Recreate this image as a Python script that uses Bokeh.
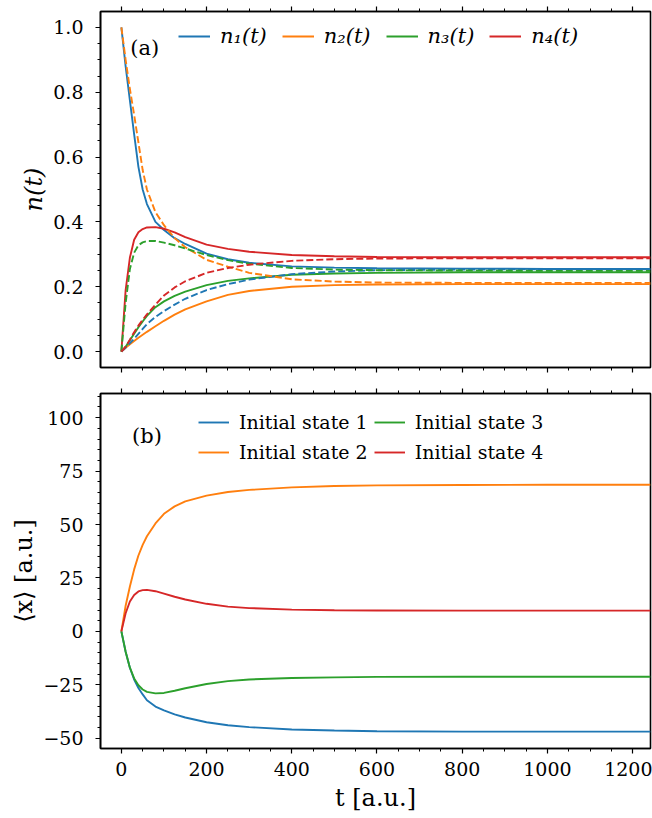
from bokeh.plotting import figure
from bokeh.layouts import column
from bokeh.models import (Range1d, LinearAxis, SingleIntervalTicker, Legend,
                          LegendItem, Label, CustomJSTickFormatter, PrintfTickFormatter)
from bokeh.embed import file_html
from bokeh.resources import INLINE

# ---------------- data ----------------
t = [0, 10, 20, 30, 40, 50, 60, 80, 100, 125, 150, 200, 250, 300, 400,
     500, 600, 800, 1000, 1242]

# panel (a): solid lines
n1_solid = [1.0, 0.88, 0.775, 0.67, 0.57, 0.5, 0.455, 0.4, 0.375, 0.35, 0.332,
            0.302, 0.285, 0.274, 0.263, 0.259, 0.257, 0.256, 0.255, 0.255]
n2_solid = [0.0, 0.012, 0.023, 0.033, 0.043, 0.052, 0.061, 0.078, 0.095, 0.114, 0.13,
            0.155, 0.175, 0.187, 0.2, 0.205, 0.207, 0.208, 0.208, 0.208]
n3_solid = [0.0, 0.015, 0.035, 0.055, 0.075, 0.093, 0.11, 0.137, 0.155, 0.172, 0.185,
            0.205, 0.218, 0.226, 0.237, 0.241, 0.243, 0.245, 0.245, 0.245]
n4_solid = [0.0, 0.19, 0.29, 0.345, 0.368, 0.378, 0.383, 0.384, 0.379, 0.368, 0.353,
            0.33, 0.317, 0.308, 0.298, 0.294, 0.292, 0.291, 0.291, 0.291]
# panel (a): dashed lines
n1_dash = [0.0, 0.012, 0.026, 0.04, 0.055, 0.07, 0.085, 0.107, 0.125, 0.145, 0.163,
           0.19, 0.208, 0.222, 0.239, 0.247, 0.251, 0.253, 0.254, 0.254]
n2_dash = [1.0, 0.9, 0.81, 0.73, 0.645, 0.56, 0.5, 0.43, 0.39, 0.35, 0.322,
           0.283, 0.262, 0.243, 0.223, 0.216, 0.213, 0.212, 0.212, 0.212]
n3_dash = [0.0, 0.15, 0.255, 0.305, 0.328, 0.337, 0.341, 0.341, 0.336, 0.328, 0.318,
           0.298, 0.282, 0.271, 0.258, 0.253, 0.251, 0.25, 0.249, 0.249]
n4_dash = [0.0, 0.015, 0.037, 0.06, 0.08, 0.098, 0.115, 0.145, 0.173, 0.198, 0.217,
           0.243, 0.258, 0.268, 0.28, 0.285, 0.287, 0.288, 0.288, 0.288]

# panel (b): <x>
x_state1 = [0, -9.5, -17, -22.5, -26.5, -29.5, -32.2, -35.2, -37.0, -38.8, -40.3,
            -42.5, -43.9, -44.8, -45.9, -46.4, -46.7, -46.9, -46.9, -46.9]
x_state2 = [0, 12, 21, 29, 35.5, 40.5, 44.5, 50.5, 55, 58.5, 60.8,
            63.5, 65.2, 66.2, 67.4, 68.0, 68.3, 68.5, 68.6, 68.6]
x_state3 = [0, -9.5, -17, -22, -25.2, -27.2, -28.3, -29.0, -28.8, -27.8, -26.6,
            -24.6, -23.3, -22.5, -21.8, -21.5, -21.3, -21.2, -21.2, -21.2]
x_state4 = [0, 8.5, 14, 17, 18.7, 19.3, 19.4, 18.8, 17.7, 16.2, 14.9,
            12.9, 11.6, 10.9, 10.2, 9.9, 9.8, 9.7, 9.7, 9.7]

top_labels = ["n\u2081(t)", "n\u2082(t)", "n\u2083(t)", "n\u2084(t)"]
bottom_labels = ["Initial state 1", "Initial state 2", "Initial state 3", "Initial state 4"]
colors = ["#1f77b4", "#ff7f0e", "#2ca02c", "#d62728"]

FONT = "DejaVu Serif"
TICK_SIZE = "19px"
LW = 1.9

x_range = Range1d(-49, 1242)


def style_axis(ax, interval, minor, show_labels=True):
    ax.ticker = SingleIntervalTicker(interval=interval, num_minor_ticks=minor)
    ax.axis_line_color = "black"
    ax.axis_line_width = 1.6
    ax.major_tick_line_color = "black"
    ax.minor_tick_line_color = "black"
    ax.major_tick_line_width = 1.2
    ax.minor_tick_line_width = 1.0
    ax.major_tick_in = 0
    ax.minor_tick_in = 0
    ax.major_tick_out = 5
    ax.minor_tick_out = 3
    ax.major_label_text_font = FONT
    ax.major_label_text_font_size = TICK_SIZE
    ax.major_label_text_color = "black"
    ax.axis_label_text_font = FONT
    ax.axis_label_text_font_size = "24px"
    ax.axis_label_text_font_style = "normal"
    ax.axis_label_text_color = "black"
    if not show_labels:
        ax.formatter = CustomJSTickFormatter(code="return ''")
        ax.major_label_standoff = 0


def make_fig(y_range, fh, top_b, bottom_b):
    p = figure(frame_width=550, frame_height=fh, x_range=x_range, y_range=y_range,
               output_backend="svg", toolbar_location=None,
               min_border_left=100, min_border_right=2,
               min_border_top=top_b, min_border_bottom=bottom_b)
    p.xgrid.visible = False
    p.ygrid.visible = False
    p.outline_line_color = "black"
    p.outline_line_width = 1.6
    p.background_fill_color = "white"
    p.border_fill_color = "white"
    return p


# ---------------- panel (a) ----------------
p1 = make_fig(Range1d(-0.049, 1.049), 356, 11, 13)
style_axis(p1.xaxis[0], 200, 4, show_labels=False)
style_axis(p1.yaxis[0], 0.2, 4)
p1.yaxis[0].formatter = PrintfTickFormatter(format="%.1f")
p1.yaxis[0].axis_label = "n(t)"
p1.yaxis[0].axis_label_text_font_style = "italic"
p1.yaxis[0].major_label_standoff = 12
p1.yaxis[0].axis_label_standoff = 2
top_ax1 = LinearAxis()
style_axis(top_ax1, 200, 4, show_labels=False)
p1.add_layout(top_ax1, "above")

solid_series = [n1_solid, n2_solid, n3_solid, n4_solid]
dash_series = [n1_dash, n2_dash, n3_dash, n4_dash]
items = []
for lab, c, ys in zip(top_labels, colors, solid_series):
    r = p1.line(t, ys, line_color=c, line_width=LW)
    items.append(LegendItem(label=lab, renderers=[r]))
for c, ys in zip(colors, dash_series):
    p1.line(t, ys, line_color=c, line_width=LW, line_dash="7 3")

leg1 = Legend(items=items, orientation="horizontal", location=(78, 319),
              padding=0, margin=0, spacing=15, label_standoff=10,
              glyph_width=32, glyph_height=20, label_height=20,
              border_line_alpha=0, background_fill_alpha=0,
              label_text_font=FONT, label_text_font_size="21px",
              label_text_font_style="italic", label_text_color="black")
p1.add_layout(leg1)
p1.add_layout(Label(x=21, y=0.935, text="(a)", text_font=FONT,
                    text_font_size="21px", text_baseline="middle", text_color="black"))

# ---------------- panel (b) ----------------
p2 = make_fig(Range1d(-54.8, 111.3), 355, 13, 62)
style_axis(p2.xaxis[0], 200, 4)
p2.xaxis[0].axis_label = "t [a.u.]"
p2.xaxis[0].major_label_standoff = 8
style_axis(p2.yaxis[0], 25, 5)
p2.yaxis[0].axis_label = "\u27e8x\u27e9 [a.u.]"
p2.yaxis[0].major_label_standoff = 12
p2.yaxis[0].axis_label_standoff = 2
p2.yaxis[0].major_label_overrides = {-25: "\u221225", -50: "\u221250"}
top_ax2 = LinearAxis()
style_axis(top_ax2, 200, 4, show_labels=False)
p2.add_layout(top_ax2, "above")

items2 = []
for lab, c, ys in zip(bottom_labels, colors, [x_state1, x_state2, x_state3, x_state4]):
    r = p2.line(t, ys, line_color=c, line_width=LW)
    items2.append(LegendItem(label=lab, renderers=[r]))

leg2 = Legend(items=items2, orientation="vertical", nrows=2, location=(98, 284),
              padding=0, margin=0, spacing=6, label_standoff=10,
              glyph_width=31, glyph_height=24, label_height=24,
              border_line_alpha=0, background_fill_alpha=0,
              label_text_font=FONT, label_text_font_size="19px",
              label_text_color="black")
p2.add_layout(leg2)
p2.add_layout(Label(x=25, y=91.4, text="(b)", text_font=FONT,
                    text_font_size="21px", text_baseline="middle", text_color="black"))

layout = column(p1, p2, spacing=0)
open("out.html", "w").write(file_html(layout, INLINE))
